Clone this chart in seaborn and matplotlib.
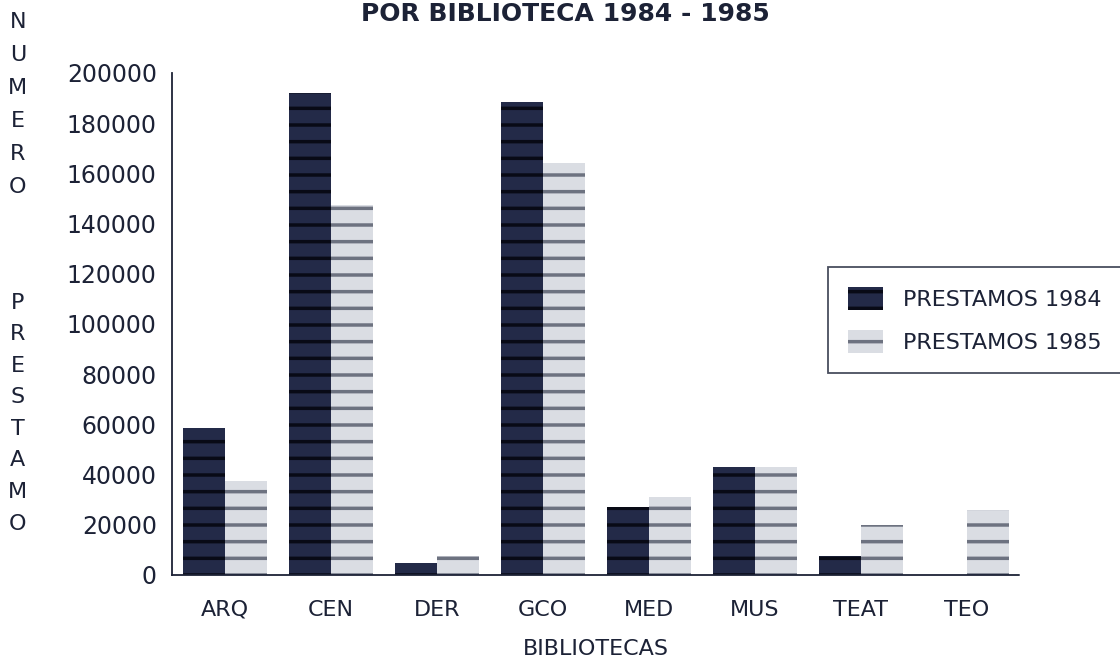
import pandas as pd
import matplotlib.pyplot as plt
import seaborn as sns
from matplotlib.patches import Patch
from matplotlib.ticker import MultipleLocator

sns.set_style("white")
plt.rcParams['font.family'] = ['DejaVu Sans']
plt.rcParams['hatch.linewidth'] = 2.5

INK = '#1c2236'

bibliotecas = ["ARQ", "CEN", "DER", "GCO", "MED", "MUS", "TEAT", "TEO"]
prestamos_1984 = [58500, 192000, 4800, 188500, 27000, 43000, 7500, 0]
prestamos_1985 = [37500, 147500, 7500, 164000, 31000, 43000, 20000, 26000]
series = ["PRESTAMOS 1984", "PRESTAMOS 1985"]
y_ticks = [0, 20000, 40000, 60000, 80000, 100000, 120000, 140000, 160000, 180000, 200000]

df = pd.DataFrame({
    "Biblioteca": bibliotecas * 2,
    "Prestamos": prestamos_1984 + prestamos_1985,
    "Serie": [series[0]] * len(bibliotecas) + [series[1]] * len(bibliotecas),
})

fills = {series[0]: '#232a48', series[1]: '#dadde3'}
hatch_cols = {series[0]: '#080a16', series[1]: '#6d7280'}

fig = plt.figure(figsize=(11.2, 6.67), dpi=100)
ax = fig.add_axes([0.1536, 0.138, 0.757, 0.7526])

sns.barplot(data=df, x="Biblioteca", y="Prestamos", hue="Serie", order=bibliotecas,
            hue_order=series, palette=fills, width=0.8, saturation=1, ax=ax,
            legend=False)

# horizontal stripe pattern like the old printer fill
for cont, s in zip(ax.containers, series):
    for bar in cont:
        bar.set_hatch('-')
        bar.set_edgecolor(hatch_cols[s])
        bar.set_linewidth(0)

ax.set_xlim(-0.5, len(bibliotecas) - 0.5)
ax.set_ylim(0, 200000)
ax.set_yticks(y_ticks)
ax.set_yticklabels([str(v) for v in y_ticks], fontsize=17, color=INK)
ax.yaxis.set_minor_locator(MultipleLocator(5000))
ax.tick_params(axis='y', which='major', direction='inout', length=10, width=1.2, color=INK, pad=6)
ax.tick_params(axis='y', which='minor', direction='inout', length=3, width=1, color=INK)

ax.set_xticks(range(len(bibliotecas)))
ax.set_xticklabels(bibliotecas, fontsize=16, color=INK)
ax.set_xticks([i - 0.5 for i in range(len(bibliotecas) + 1)], minor=True)
ax.tick_params(axis='x', which='major', length=0, pad=18)
ax.tick_params(axis='x', which='minor', direction='inout', length=10, width=1.2, color=INK)

for side in ['top', 'right']:
    ax.spines[side].set_visible(False)
for side in ['left', 'bottom']:
    ax.spines[side].set_color(INK)
    ax.spines[side].set_linewidth(1.3)
    ax.spines[side].set_linestyle((0, (4, 1)))

ax.set_xlabel("BIBLIOTECAS", fontsize=16, color=INK, labelpad=14)
ax.set_ylabel("")

handles = [Patch(facecolor=fills[s], edgecolor=hatch_cols[s], hatch='-', linewidth=0) for s in series]
leg = ax.legend(handles, series, loc='upper left', bbox_to_anchor=(0.76, 0.635),
                fontsize=16, frameon=True, fancybox=False, handlelength=1.6, handleheight=1.2,
                handletextpad=0.9, labelspacing=0.9, borderpad=0.9, labelcolor=INK)
leg.get_frame().set_edgecolor(INK)
leg.get_frame().set_linewidth(1.3)

fig.text(0.505, 0.997, "POR BIBLIOTECA 1984 - 1985", ha='center', va='top',
         fontsize=18, fontweight='bold', color=INK)

for i, ch in enumerate("NUMERO"):
    fig.text(0.016, 1 - (22 + i * 33) / 667, ch, ha='center', va='center', fontsize=16, color=INK)
for i, ch in enumerate("PRESTAMO"):
    fig.text(0.016, 1 - (303 + i * 31.5) / 667, ch, ha='center', va='center', fontsize=16, color=INK)

fig.savefig("out.png", dpi=100)
